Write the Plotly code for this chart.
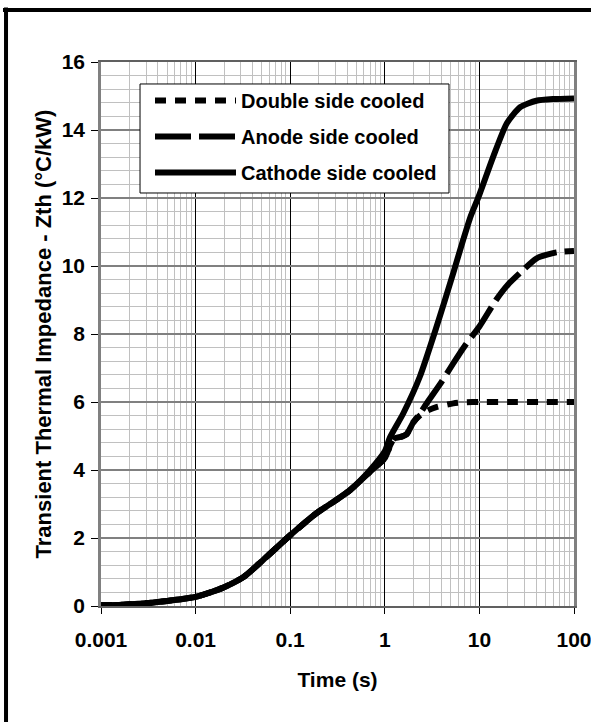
import plotly.graph_objects as go

# ---- data ----
t_double = [0.001, 0.0015, 0.002, 0.003, 0.005, 0.007, 0.01, 0.015, 0.02, 0.032, 0.056, 0.1,
            0.19, 0.3, 0.43, 0.7, 1.0, 1.15, 1.25, 1.5, 1.7, 2.0, 2.3, 2.8, 3.5, 5.3, 7.0, 10,
            20, 50, 100]
z_double = [0.02, 0.03, 0.05, 0.08, 0.15, 0.2, 0.27, 0.42, 0.55, 0.85, 1.44, 2.08,
            2.73, 3.1, 3.41, 3.95, 4.35, 4.75, 4.92, 4.98, 5.05, 5.4, 5.58, 5.74, 5.85, 5.96, 5.99, 6.0,
            6.0, 6.0, 6.0]

t_anode = [0.001, 0.0015, 0.002, 0.003, 0.005, 0.007, 0.01, 0.015, 0.02, 0.032, 0.056, 0.1,
           0.19, 0.3, 0.43, 0.7, 1.0, 1.15, 1.25, 1.5, 1.7, 2.0, 2.3, 2.77, 4.0, 5.3, 7.0, 10,
           15, 20, 27, 40, 65, 100]
z_anode = [0.02, 0.03, 0.05, 0.08, 0.15, 0.2, 0.27, 0.42, 0.55, 0.85, 1.44, 2.08,
           2.73, 3.1, 3.41, 3.95, 4.35, 4.75, 4.92, 4.98, 5.05, 5.4, 5.62, 5.96, 6.6, 7.14, 7.65, 8.22,
           9.0, 9.45, 9.8, 10.22, 10.4, 10.44]

t_cathode = [0.001, 0.0015, 0.002, 0.003, 0.005, 0.007, 0.01, 0.015, 0.02, 0.032, 0.056, 0.1,
             0.19, 0.3, 0.43, 0.7, 1.0, 1.13, 1.57, 2.35, 3.53, 5.3, 6.76, 7.94, 10,
             14.1, 19.5, 26.9, 40, 60, 100]
z_cathode = [0.02, 0.03, 0.05, 0.08, 0.15, 0.2, 0.27, 0.42, 0.55, 0.85, 1.44, 2.08,
             2.73, 3.1, 3.41, 4.0, 4.55, 4.95, 5.67, 6.75, 8.22, 9.8, 10.78, 11.4, 12.1,
             13.24, 14.2, 14.67, 14.86, 14.91, 14.93]

series_names = ["Double side cooled", "Anode side cooled", "Cathode side cooled"]

x_tickvals = [0.001, 0.01, 0.1, 1, 10, 100]
x_ticktext = ["0.001", "0.01", "0.1", "1", "10", "100"]
x_minor = [m * d for d in [0.001, 0.01, 0.1, 1, 10] for m in range(2, 10)]

FONT = "Liberation Sans, Arial, sans-serif"
LW = 6

fig = go.Figure()
fig.add_trace(go.Scatter(x=t_double, y=z_double, mode="lines", name=series_names[0],
                         legendgroup="a",
                         line=dict(color="black", width=LW, dash="11px,9px", shape="spline", smoothing=0.6)))
fig.add_trace(go.Scatter(x=t_anode, y=z_anode, mode="lines", name=series_names[1],
                         legendgroup="b",
                         line=dict(color="black", width=LW, dash="36px,8px", shape="spline", smoothing=0.6)))
fig.add_trace(go.Scatter(x=t_cathode, y=z_cathode, mode="lines", name=series_names[2],
                         legendgroup="c",
                         line=dict(color="black", width=LW, shape="spline", smoothing=0.6)))

fig.update_layout(
    width=591, height=722,
    margin=dict(l=101, r=17, t=62, b=116, pad=0),
    paper_bgcolor="white", plot_bgcolor="white",
    font=dict(family=FONT, size=21, color="black", weight="bold"),
    showlegend=True,
    legend=dict(x=0.1036, y=0.965, xanchor="left", yanchor="top",
                bgcolor="rgba(0,0,0,0)", borderwidth=0,
                font=dict(family=FONT, size=20, color="black", weight="bold"),
                itemwidth=81, traceorder="grouped", tracegroupgap=7),
    xaxis=dict(type="log", range=[-3, 2], tickmode="array", tickvals=x_tickvals, ticktext=x_ticktext,
               automargin=False, ticklabeloverflow="allow",
               showgrid=True, gridcolor="black", gridwidth=1,
               minor=dict(tickmode="array", tickvals=x_minor, showgrid=True, gridcolor="#c0c0c0",
                          gridwidth=1, ticks=""),
               showline=True, linecolor="#606060", linewidth=2, mirror=True,
               ticks="outside", ticklen=6, tickcolor="black", tickwidth=1,
               ticklabelstandoff=8,
               zeroline=False,
               title=dict(text="Time (s)", standoff=22, font=dict(size=21))),
    yaxis=dict(range=[0, 16], tickmode="linear", tick0=0, dtick=2,
               automargin=False, ticklabeloverflow="allow",
               showgrid=True, gridcolor="#808080", gridwidth=1.5,
               minor=dict(dtick=0.4, showgrid=True, gridcolor="#c0c0c0", gridwidth=1, ticks=""),
               showline=True, linecolor="#808080", linewidth=2.5, mirror=True,
               ticks="outside", ticklen=7, tickcolor="black", tickwidth=1,
               ticklabelstandoff=2,
               zeroline=False,
               title=dict(text="Transient Thermal Impedance - Zth (°C/kW)", standoff=4,
                          font=dict(size=22))),
    shapes=[
        # legend box
        dict(type="rect", xref="paper", yref="paper", x0=0.0825, x1=0.7357, y0=0.7592, y1=0.9596,
             fillcolor="white", line=dict(color="black", width=1), layer="above"),
        # outer frame (left and top edges visible in the reference)
        dict(type="line", xref="paper", yref="paper", x0=-0.2008, x1=-0.2008, y0=-0.3, y1=1.1,
             line=dict(color="black", width=4)),
        dict(type="line", xref="paper", yref="paper", x0=-0.2072, x1=1.1, y0=1.0956, y1=1.0956,
             line=dict(color="black", width=4)),
    ],
)

fig.write_html("out.html")
